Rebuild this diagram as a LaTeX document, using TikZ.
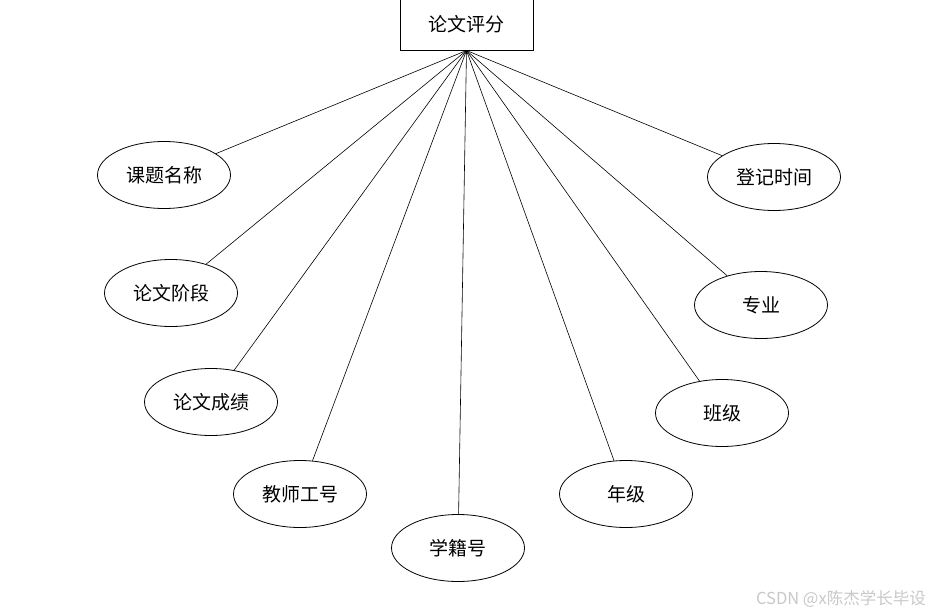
\documentclass[tikz,border=0pt]{standalone}
\usepackage{fontspec}
\newfontfamily\cjk{Noto Sans CJK SC}
\usetikzlibrary{shapes.geometric}
\definecolor{wm}{RGB}{200,200,200}
\tikzset{
  attr/.style={draw=black, line width=0.8pt, ellipse, minimum width=133pt, minimum height=67pt, inner sep=0pt, font=\cjk\fontsize{19}{21}\selectfont},
  ent/.style={draw=black, line width=0.8pt, rectangle, minimum width=133pt, minimum height=52pt, inner sep=0pt, font=\cjk\fontsize{19}{21}\selectfont},
  conn/.style={draw=black, line width=0.6pt}
}
\begin{document}
\begin{tikzpicture}[x=1pt,y=-1pt]
\useasboundingbox (0,0) rectangle (941,615);
\node[ent] (e) at (466.5,24.5) {论文评分};
\coordinate (hub) at (466.5,50.5);
\node[attr] (a1) at (164,175) {课题名称};
\node[attr] (a2) at (171,293) {论文阶段};
\node[attr] (a3) at (211,402) {论文成绩};
\node[attr] (a4) at (300,494) {教师工号};
\node[attr] (a5) at (458,548) {学籍号};
\node[attr] (a6) at (626,494) {年级};
\node[attr] (a7) at (722,413) {班级};
\node[attr] (a8) at (761,305) {专业};
\node[attr] (a9) at (774,177) {登记时间};
\foreach \n in {a1,a2,a3,a4,a5,a6,a7,a8,a9}{
  \draw[conn] (hub) -- (\n);
}
\node[anchor=east, text=wm, inner sep=0pt, font=\cjk\fontsize{16.5}{18}\selectfont] (wmk) at (926,599) {CSDN @x陈杰学长毕设};
\end{tikzpicture}
\end{document}
